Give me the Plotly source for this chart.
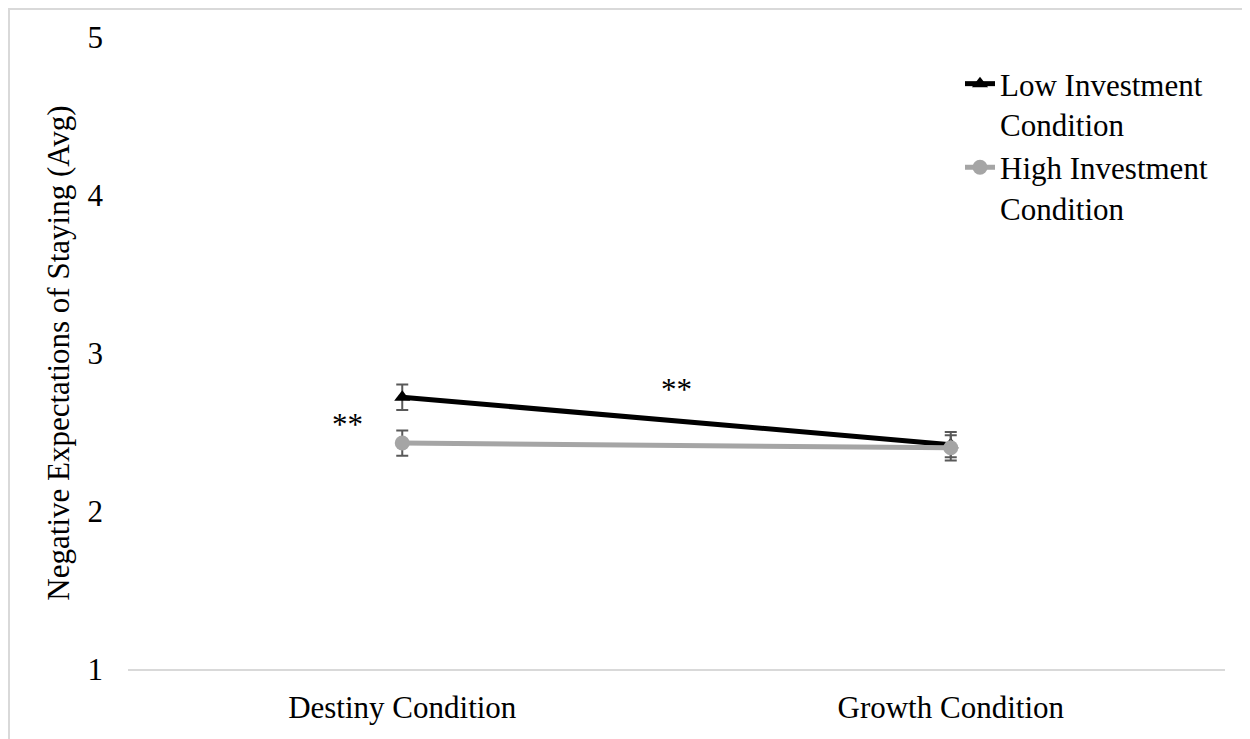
import plotly.graph_objects as go

categories = ["Destiny Condition", "Growth Condition"]
low_values = [2.72, 2.42]
high_values = [2.43, 2.40]
low_err = [0.08, 0.08]
high_err = [0.08, 0.08]
y_ticks = [1, 2, 3, 4, 5]
series_names = ["Low Investment<br>Condition", "High Investment<br>Condition"]
sig_labels = ["**", "**"]

FONT = "Liberation Serif, Times New Roman, serif"
OFF = 8  # default page body margin
W, H = 1250 - OFF, 739 - OFF
ML, MR, MT, MB = 128 - OFF, 25, 37 - OFF, 70

fig = go.Figure()
x_pos = [0, 1]
fig.add_trace(go.Scatter(
    x=x_pos, y=low_values, name=series_names[0], mode="lines+markers",
    line=dict(color="#000000", width=5),
    marker=dict(symbol="triangle-up", size=14, color="#000000"),
    error_y=dict(type="data", array=low_err, color="#595959", thickness=2, width=6),
))
fig.add_trace(go.Scatter(
    x=x_pos, y=high_values, name=series_names[1], mode="lines+markers",
    line=dict(color="#a5a5a5", width=5),
    marker=dict(symbol="circle", size=15, color="#a5a5a5"),
    error_y=dict(type="data", array=high_err, color="#595959", thickness=2, width=6),
))

# significance markers
fig.add_annotation(x=-0.1, y=2.55, text=sig_labels[0], showarrow=False,
                   font=dict(family=FONT, size=31, color="#000000"), xref="x", yref="y")
fig.add_annotation(x=0.5, y=2.77, text=sig_labels[1], showarrow=False,
                   font=dict(family=FONT, size=31, color="#000000"), xref="x", yref="y")

pw = W - ML - MR
ph = H - MT - MB
# chart border (page pixel ~7 -> figure pixel ~0)
fig.add_shape(type="rect", xref="paper", yref="paper",
              x0=(1 - ML) / pw, x1=(W + 10 - ML) / pw,
              y0=(H - MB - (H + 10)) / ph, y1=(H - MB - 1) / ph,
              line=dict(color="#d9d9d9", width=2), fillcolor="rgba(0,0,0,0)", layer="below")

fig.update_layout(
    width=W, height=H,
    margin=dict(l=ML, r=MR, t=MT, b=MB, pad=0),
    paper_bgcolor="white", plot_bgcolor="white",
    font=dict(family=FONT, size=31, color="#000000"),
    showlegend=True,
    legend=dict(x=(960 - OFF - ML) / pw, y=(H - MB - (57 - OFF)) / ph, xanchor="left", yanchor="top",
                bgcolor="rgba(0,0,0,0)", font=dict(family=FONT, size=31, color="#000000"),
                valign="top", tracegroupgap=0, itemwidth=30),
    xaxis=dict(range=[-0.5, 1.5], tickvals=x_pos, ticktext=categories, showgrid=False,
               zeroline=False, showline=True, linecolor="#d9d9d9", linewidth=2,
               ticks="", ticklabelstandoff=10, fixedrange=True),
    yaxis=dict(range=[1, 5], tickvals=y_ticks, showgrid=False, zeroline=False,
               showline=False, ticks="", ticklabelstandoff=24,
               title=dict(text="Negative Expectations of Staying (Avg)", standoff=8,
                          font=dict(family=FONT, size=31)),
               fixedrange=True),
)

fig.write_html("out.html")
